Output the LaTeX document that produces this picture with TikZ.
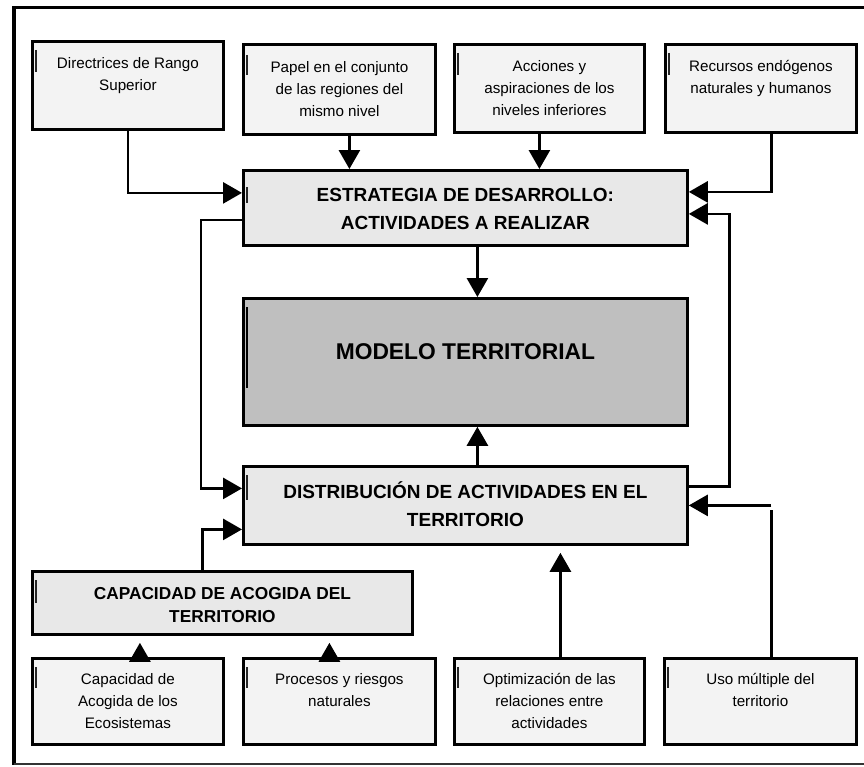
\documentclass[tikz,border=0pt]{standalone}
\usepackage{fontspec}
\setmainfont{Liberation Sans}
\usetikzlibrary{arrows.meta}
\definecolor{grisclaro}{RGB}{243,243,243}
\definecolor{grismedio}{RGB}{232,232,232}
\definecolor{grisoscuro}{RGB}{191,191,191}
% texto arriba dentro de la caja
\newcommand{\caja}[4]{\parbox[c][#2][t]{#1}{\centering\vspace*{#3}\strut #4}}

\begin{document}
\begin{tikzpicture}[x=1bp, y=-1bp]
        \tikzstyle{every node} = [rectangle, draw, line width=2.8bp, inner sep=0pt, anchor=north west]
        \tikzstyle{dato} = [fill=grisclaro, font=\fontsize{15.2bp}{22bp}\selectfont]
        \tikzstyle{bloque} = [fill=grismedio, font=\bfseries\fontsize{19bp}{28bp}\selectfont]
        \tikzstyle{flecha} = [line width=2.8bp, -{Triangle[length=19bp,width=21bp]}]
        \tikzstyle{cursor} = [line width=1.4bp, black!85]
        \useasboundingbox (0,0) rectangle (864,767);
        % marco
        \draw[line width=3bp] (864,8) -- (12.5,8);
        \draw[line width=4bp] (14,6.5) -- (14,765);
        \draw[line width=2bp, black!80] (14,764) -- (864,764);
        % fila superior
        \node[dato] (dr) at (31,40) {\caja{191bp}{88bp}{11.5bp}{Directrices de Rango\\Superior}};
        \node[dato] (pa) at (242,43) {\caja{192bp}{90bp}{13bp}{Papel en el conjunto\\de las regiones del\\mismo nivel}};
        \node[dato] (ac) at (453,43) {\caja{190bp}{88bp}{11.5bp}{Acciones y\\aspiraciones de los\\niveles inferiores}};
        \node[dato] (re) at (664,43) {\caja{191bp}{88bp}{11.5bp}{Recursos endógenos\\naturales y humanos}};
        % bloque central
        \node[bloque] (es) at (242,169) {\caja{444bp}{75bp}{11bp}{ESTRATEGIA DE DESARROLLO:\\ACTIVIDADES A REALIZAR}};
        \node[fill=grisoscuro, font=\bfseries\fontsize{22.8bp}{28bp}\selectfont] (mo) at (242,297) {\caja{444bp}{127bp}{41bp}{MODELO TERRITORIAL}};
        \node[bloque] (di) at (242,465) {\caja{444bp}{78bp}{12bp}{DISTRIBUCIÓN DE ACTIVIDADES EN EL\\TERRITORIO}};
        \node[bloque, font=\bfseries\fontsize{17.3bp}{23bp}\selectfont] (ca) at (31,570) {\caja{380bp}{63bp}{12bp}{CAPACIDAD DE ACOGIDA DEL\\TERRITORIO}};
        % fila inferior
        \node[dato] (ce) at (31,657) {\caja{191bp}{86bp}{10.5bp}{Capacidad de\\Acogida de los\\Ecosistemas}};
        \node[dato] (pr) at (242,657) {\caja{192bp}{86bp}{10.5bp}{Procesos y riesgos\\naturales}};
        \node[dato] (op) at (453,657) {\caja{190bp}{86bp}{10.5bp}{Optimización de las\\relaciones entre\\actividades}};
        \node[dato] (us) at (663,657) {\caja{192bp}{86bp}{10.5bp}{Uso múltiple del\\territorio}};
        % marcas de cursor
        \foreach \n/\a/\b in {dr/10/32, pa/12/32, ac/10/32, re/10/32, es/18/34, di/10/35, ca/10/33, ce/10/31, pr/10/31, op/10/31, us/10/31}
            \draw[cursor] ([shift={(5,\a)}]\n.north west) -- ([shift={(5,\b)}]\n.north west);
        \draw[line width=2.4bp] ([shift={(5,10)}]mo.north west) -- ([shift={(5,91)}]mo.north west);
        % conexiones
        \draw[flecha] (dr.south) |- ([yshift=15bp]es.west);
        \draw[flecha] ([xshift=10bp]pa.south) -- ([xshift=10bp]pa.south |- es.north);
        \draw[flecha] ([xshift=-10bp]ac.south) -- ([xshift=-10bp]ac.south |- es.north);
        \draw[flecha] ([xshift=10.5bp]re.south) |- ([yshift=16bp]es.east);
        \draw[flecha] ([xshift=12bp]es.south) -- ([xshift=12bp]mo.north);
        \draw[flecha] ([xshift=12bp]di.north) -- ([xshift=12bp]mo.south);
        \draw[flecha] ([yshift=-12bp]es.west) -- ++(-41,0) |- ([yshift=17bp]di.west);
        \draw[flecha] ([yshift=19bp]di.east) -- ++(41,0) |- ([yshift=-6bp]es.east);
        \draw[flecha] ([xshift=-20bp]ca.north) |- ([yshift=-24bp]di.west);
        \foreach \from/\dx/\to in {ce/12/ca, pr/-10/ca, op/11/di}
            \draw[flecha, shorten >=7bp] ([xshift=\dx bp]\from.north) -- ([xshift=\dx bp]\from.north |- \to.south);
        \draw[line width=2.8bp] ([xshift=11bp]us.north) -- ([xshift=11bp, yshift=-5bp]us.north |- di.east);
        \draw[flecha] ([xshift=11bp]us.north |- di.east) -- (di.east);
\end{tikzpicture}
\end{document}
